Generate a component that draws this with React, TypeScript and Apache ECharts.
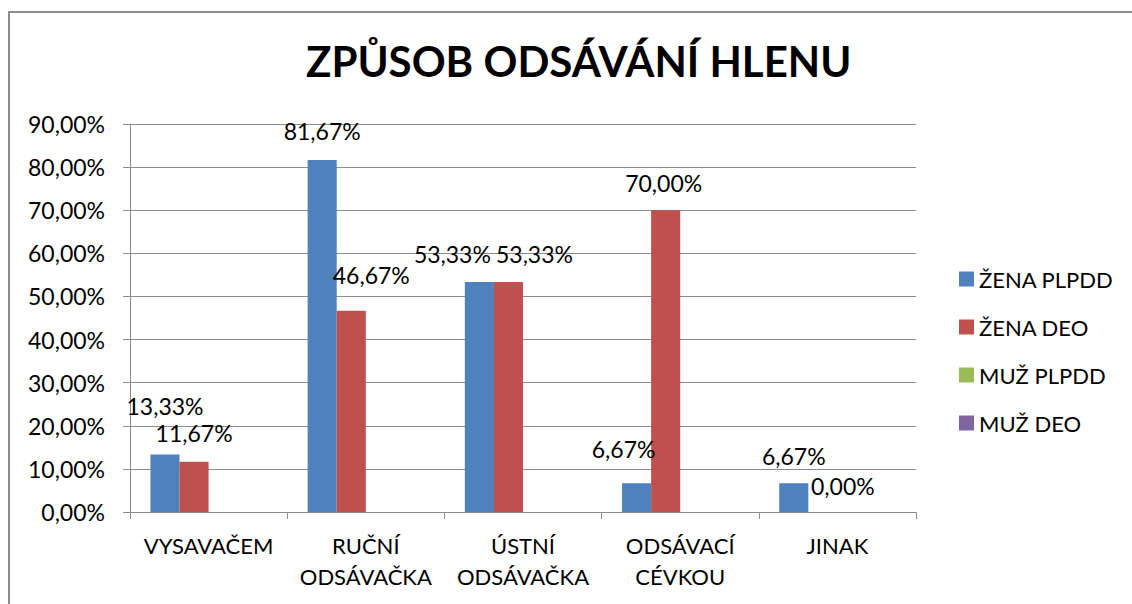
import React, { useEffect, useRef } from "react";
import * as echarts from "echarts";

const title = "ZPŮSOB ODSÁVÁNÍ HLENU";
const categories = ["VYSAVAČEM", "RUČNÍ ODSÁVAČKA", "ÚSTNÍ ODSÁVAČKA", "ODSÁVACÍ CÉVKOU", "JINAK"];
const seriesNames = ["ŽENA PLPDD", "ŽENA DEO", "MUŽ PLPDD", "MUŽ DEO"];
const zenaPlpdd = [13.33, 81.67, 53.33, 6.67, 6.67];
const zenaDeo = [11.67, 46.67, 53.33, 70.0, 0.0];
const muzPlpdd: (number | null)[] = [];
const muzDeo: (number | null)[] = [];
const yTicks = { min: 0, max: 90, interval: 10 };

// label nudges (pixels) to mimic the original placement
const zenaPlpddLabelOffset = [[0, -32], [0, -12], [-27, -12], [-13, -18], [0, -11]];
const zenaDeoLabelOffset = [[0, -12], [20, -19], [26, -12], [-2, -11], [20, -10]];

const colors = ["#4F81BD", "#C0504D", "#9BBB59", "#8064A2"];
const FONT = "Lato";
const fmt = (v: number) => v.toFixed(2).replace(".", ",") + "%";

export default function App() {
  const ref = useRef<HTMLDivElement>(null);
  useEffect(() => {
    if (!ref.current) return;
    const chart = echarts.init(ref.current, undefined, { renderer: "svg" });
    const mk = (vals: number[], offs: number[][]) =>
      vals.map((v, i) => ({ value: v, label: { offset: offs[i] } }));
    const labelCfg = {
      show: true,
      position: "top",
      distance: 5,
      color: "#000",
      fontFamily: FONT,
      fontSize: 23,
      formatter: (p: any) => fmt(p.value),
    };
    chart.setOption({
      animation: false,
      color: colors,
      textStyle: { fontFamily: FONT },
      title: {
        text: title,
        left: 306,
        top: 40,
        padding: 0,
        textStyle: { fontFamily: FONT, fontWeight: "bold", fontSize: 42, color: "#000" },
      },
      graphic: [
        {
          type: "rect",
          shape: { x: 9, y: 12, width: 1200, height: 700 },
          style: { fill: "none", stroke: "#8c8c8c", lineWidth: 2 },
          silent: true,
        },
      ],
      legend: {
        orient: "vertical",
        left: 954,
        top: 263,
        itemWidth: 15,
        itemHeight: 15,
        itemGap: 26,
        icon: "rect",
        textStyle: { fontFamily: FONT, fontSize: 22, color: "#000", lineHeight: 20, padding: [0, 0, 0, 0] },
        data: seriesNames,
      },
      grid: { left: 130, right: 216, top: 124, bottom: 92, containLabel: false },
      xAxis: {
        type: "category",
        data: categories,
        axisLine: { lineStyle: { color: "#8c8c8c", width: 1 } },
        axisTick: { show: true, length: 7, lineStyle: { color: "#8c8c8c" } },
        axisLabel: {
          color: "#000",
          fontFamily: FONT,
          fontSize: 22,
          lineHeight: 31,
          margin: 18,
          interval: 0,
          formatter: (v: string) => v.replace(" ", "\n"),
        },
      },
      yAxis: {
        type: "value",
        min: yTicks.min,
        max: yTicks.max,
        interval: yTicks.interval,
        axisLine: { show: true, lineStyle: { color: "#8c8c8c", width: 1 } },
        axisTick: { show: true, length: 7, lineStyle: { color: "#8c8c8c" } },
        splitLine: { show: true, lineStyle: { color: "#8c8c8c", width: 1 } },
        axisLabel: {
          color: "#000",
          fontFamily: FONT,
          fontSize: 23,
          margin: 25,
          formatter: (v: number) => fmt(v),
        },
      },
      series: [
        {
          name: seriesNames[0],
          type: "bar",
          barGap: "0%",
          barCategoryGap: "26%",
          data: mk(zenaPlpdd, zenaPlpddLabelOffset),
          label: labelCfg,
        },
        {
          name: seriesNames[1],
          type: "bar",
          barGap: "0%",
          barCategoryGap: "26%",
          data: mk(zenaDeo, zenaDeoLabelOffset),
          label: labelCfg,
        },
        { name: seriesNames[2], type: "bar", barGap: "0%", barCategoryGap: "26%", data: muzPlpdd },
        { name: seriesNames[3], type: "bar", barGap: "0%", barCategoryGap: "26%", data: muzDeo },
      ],
    });
    return () => chart.dispose();
  }, []);
  return (
    <div
      ref={ref}
      style={{ position: "absolute", left: 0, top: 0, width: 1132, height: 604, background: "#fff" }}
    />
  );
}
